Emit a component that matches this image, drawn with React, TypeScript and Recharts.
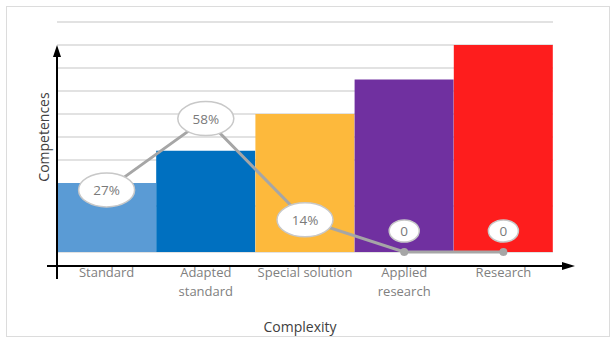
import React from "react";
import { ComposedChart, Bar, Line, Cell, XAxis, YAxis, CartesianGrid, LabelList } from "recharts";

const CATEGORIES = ["Standard", "Adapted standard", "Special solution", "Applied research", "Research"];
const TICK_LINES = [["Standard"], ["Adapted", "standard"], ["Special solution"], ["Applied", "research"], ["Research"]];
const COMPETENCE = [3, 4.4, 6, 7.5, 9];
const SHARE = [27, 58, 14, 0, 0];
const BAR_COLORS = ["#5a9bd5", "#0070c0", "#fdb93c", "#7030a0", "#fe1d1d"];
const Y_TICKS = [0, 1, 2, 3, 4, 5, 6, 7, 8, 9, 10];

const data = CATEGORIES.map((name, i) => ({
  name,
  competence: COMPETENCE[i],
  share: SHARE[i],
}));

const FONT = "'Open Sans', sans-serif";

function CategoryTick(props: any) {
  const { x, y, payload } = props;
  const idx = CATEGORIES.indexOf(payload.value);
  const lines = TICK_LINES[idx] || [payload.value];
  return (
    <text x={x} y={y} textAnchor="middle" fill="#808080" fontSize={13} fontFamily={FONT}>
      {lines.map((l, i) => (
        <tspan key={i} x={x} dy={i === 0 ? 25 : 19}>
          {l}
        </tspan>
      ))}
    </text>
  );
}

// bubble label: centred on the point, or floating above it for zero values
function ShareBubble(props: any) {
  const { x, y, value } = props;
  const zero = value === 0;
  const cy = zero ? y - 21 : y;
  return (
    <g>
      <ellipse
        cx={x}
        cy={cy}
        rx={zero ? 15 : 28}
        ry={zero ? 11 : 17}
        fill="#ffffff"
        stroke="#c8c8c8"
        strokeWidth={1.5}
      />
      <text
        x={x}
        y={cy}
        dy={5}
        textAnchor="middle"
        fill="#7a7a7a"
        fontSize={13.5}
        fontFamily={FONT}
      >
        {zero ? "0" : `${value}%`}
      </text>
    </g>
  );
}

export default function App() {
  return (
    <div style={{ position: "absolute", left: 0, top: 0, width: 614, height: 338, background: "#fff" }}>
      <div
        style={{
          position: "absolute",
          left: 6,
          top: 6,
          width: 602,
          height: 329,
          border: "1px solid #dcdcdc",
        }}
      />
      <div style={{ position: "absolute", left: 0, top: 0 }}>
        <ComposedChart
          width={614}
          height={338}
          data={data}
          margin={{ top: 22, right: 61, bottom: 46, left: 57 }}
          barCategoryGap={0}
          barGap={0}
        >
          <CartesianGrid vertical={false} stroke="#d9d9d9" strokeWidth={1.5} />
          <XAxis
            dataKey="name"
            height={40}
            axisLine={false}
            tickLine={false}
            tickSize={0}
            tickMargin={0}
            interval={0}
            tick={<CategoryTick />}
          />
          <YAxis
            domain={[0, 10]}
            ticks={Y_TICKS}
            width={0}
            tick={() => <g />}
            axisLine={false}
            tickLine={false}
          />
          <YAxis yAxisId="pct" domain={[0, 100]} hide />
          <Bar dataKey="competence" isAnimationActive={false}>
            {data.map((d, i) => (
              <Cell key={d.name} fill={BAR_COLORS[i]} />
            ))}
          </Bar>
          <Line
            yAxisId="pct"
            dataKey="share"
            type="linear"
            stroke="#a6a6a6"
            strokeWidth={3}
            dot={{ r: 4, fill: "#a6a6a6", stroke: "none" }}
            isAnimationActive={false}
          >
            <LabelList dataKey="share" content={<ShareBubble />} />
          </Line>
        </ComposedChart>
      </div>
      {/* axes with arrow heads and axis titles */}
      <svg
        width={614}
        height={338}
        style={{ position: "absolute", left: 0, top: 0, pointerEvents: "none" }}
      >
        <line x1={57} y1={279} x2={57} y2={54} stroke="#000" strokeWidth={2} />
        <polygon points="57,45 53,57 61,57" fill="#000" />
        <line x1={47} y1={266} x2={565} y2={266} stroke="#000" strokeWidth={2} />
        <polygon points="575,266 562,262 562,270" fill="#000" />
        <text
          x={0}
          y={0}
          transform="translate(49,137) rotate(-90)"
          textAnchor="middle"
          fill="#404040"
          fontSize={14}
          fontFamily={FONT}
        >
          Competences
        </text>
        <text x={300} y={332} textAnchor="middle" fill="#404040" fontSize={14} fontFamily={FONT}>
          Complexity
        </text>
      </svg>
    </div>
  );
}
